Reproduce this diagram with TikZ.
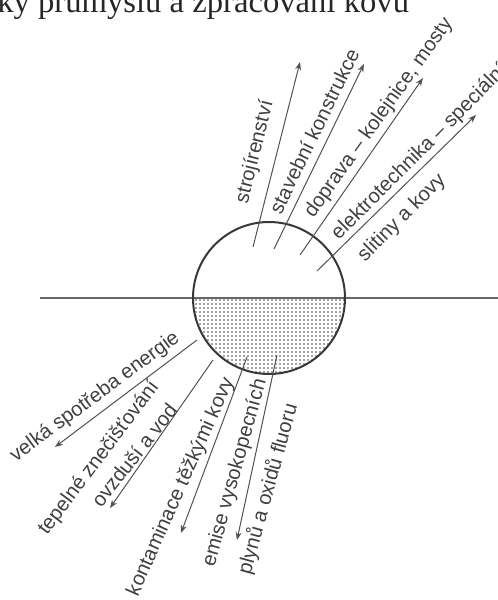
\documentclass[tikz,border=0pt]{standalone}
\usepackage{fontspec}
\setmainfont{Liberation Serif}
\setsansfont{Liberation Sans}
\usetikzlibrary{arrows.meta,patterns.meta}
\begin{document}
\begin{tikzpicture}[x=0.75pt,y=-0.75pt,
  lbl/.style={font=\sffamily\fontsize{15.2}{17}\selectfont, text=black!75, inner sep=0pt},
  arr/.style={draw=black!68, line width=0.75pt, -{Stealth[length=6pt,width=4.5pt]}},
]
\useasboundingbox (0,0) rectangle (498,600);
\clip (0,0) rectangle (498,600);
% title (cut off at the top)
\node[anchor=base west, font=\fontsize{24.5}{28}\selectfont, text=black!85, inner sep=0pt] (title) at (-3,12.5) {ky průmyslu a zpracování kovů};
\coordinate (c) at (269,298);
% dotted lower half
\begin{scope}
\clip (190,298) rectangle (350,380);
\fill[pattern={Dots[distance=3pt,radius=0.6pt]}, pattern color=black!72] (c) circle[radius=76];
\end{scope}
% horizontal line
\coordinate (hl) at (40,298);
\coordinate (hr) at (498,298);
\draw[black!60, line width=1pt] (hl) -- (hr);
% circle
\node[circle, draw=black!78, line width=1.5pt, minimum size=114pt, inner sep=0pt] (ball) at (c) {};
% upper arrows
\coordinate (a1s) at (253,247); \coordinate (a1e) at (300,62);
\coordinate (a2s) at (274,249); \coordinate (a2e) at (364,64);
\coordinate (a3s) at (300,255); \coordinate (a3e) at (423,78);
\coordinate (a4s) at (317,271); \coordinate (a4e) at (476,115);
\draw[arr] (a1s) -- (a1e);
\draw[arr] (a2s) -- (a2e);
\draw[arr] (a3s) -- (a3e);
\draw[arr] (a4s) -- (a4e);
% lower arrows
\coordinate (b1s) at (197,340); \coordinate (b1e) at (55,447);
\coordinate (b2s) at (213,360); \coordinate (b2e) at (110,508);
\coordinate (b3s) at (247,357); \coordinate (b3e) at (181,533);
\coordinate (b4s) at (277,355); \coordinate (b4e) at (237,540);
\draw[arr] (b1s) -- (b1e);
\draw[arr] (b2s) -- (b2e);
\draw[arr] (b3s) -- (b3e);
\draw[arr] (b4s) -- (b4e);
% upper labels
\node[lbl, rotate=76] (t1) at (255,152) {strojírenství};
\node[lbl, rotate=64] (t2) at (314,131) {stavební konstrukce};
\node[lbl, rotate=54.5] (t3) at (379,118) {doprava – kolejnice, mosty};
\node[lbl, rotate=45, anchor=west] (t4) at (335,237) {elektrotechnika – speciální};
\node[lbl, rotate=45] (t5) at (402,218) {slitiny a kovy};
% lower labels
\node[lbl, rotate=36.5] (u1) at (95,397) {velká spotřeba energie};
\node[lbl, rotate=53] (u2) at (99,458) {tepelné znečišťování};
\node[lbl, rotate=52] (u3) at (134,455) {ovzduší a vod};
\node[lbl, rotate=66] (u4) at (181,487) {kontaminace těžkými kovy};
\node[lbl, rotate=74.5] (u5) at (235,473) {emise vysokopecních};
\node[lbl, rotate=74.5] (u6) at (268,489) {plynů a oxidů fluoru};
\end{tikzpicture}
\end{document}
